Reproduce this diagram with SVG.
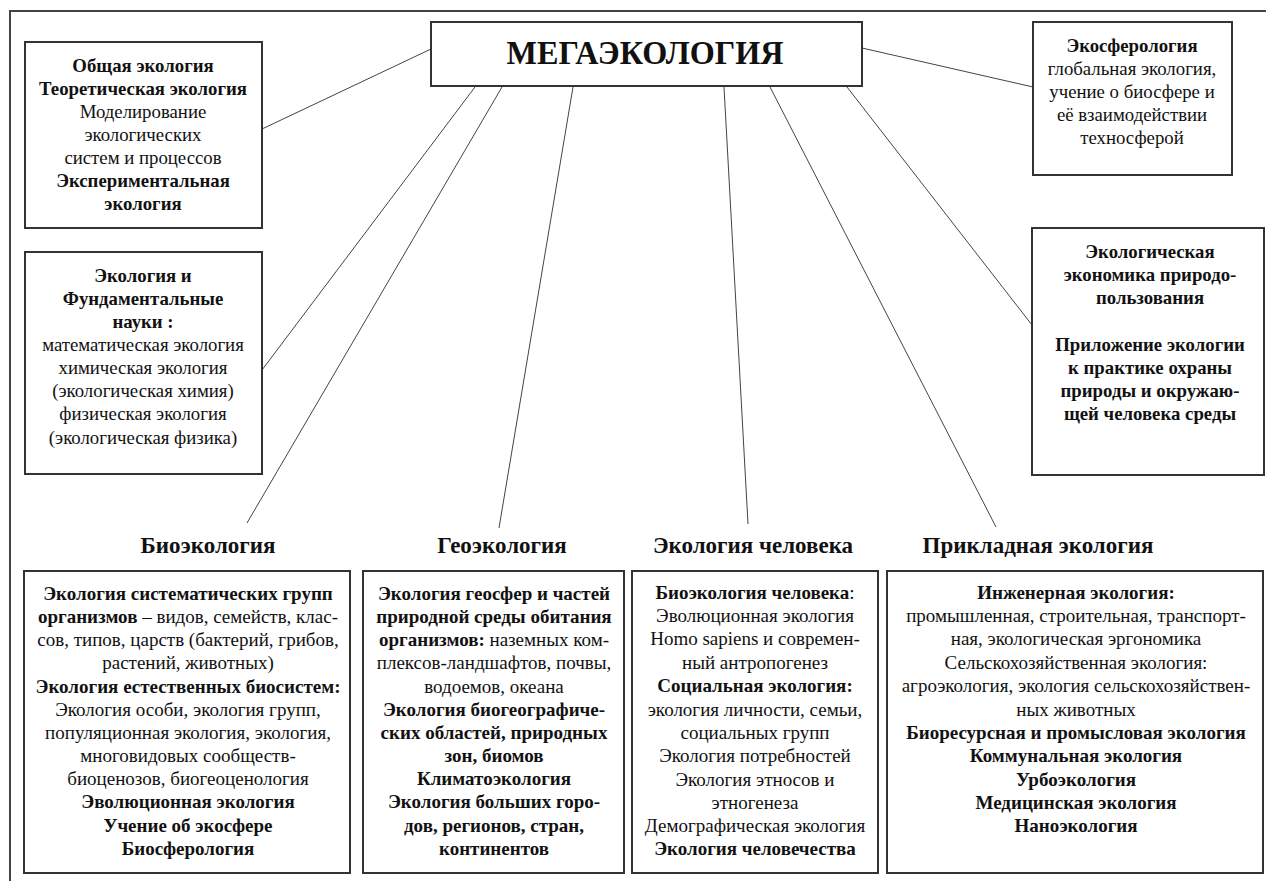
<svg xmlns="http://www.w3.org/2000/svg" width="1266" height="881" viewBox="0 0 1266 881">
  <style>
    .box { fill: #fff; stroke: #333; stroke-width: 2; }
    .frame { fill: none; stroke: #444; stroke-width: 2; }
    .link { fill: none; stroke: #444; stroke-width: 1; }
    text { font-family: "Liberation Serif", "Times New Roman", serif; fill: #111; text-anchor: middle; font-size: 18.8px; }
    .lower text { font-size: 19px; }
    .b { font-weight: bold; }
    .lower text.h { font-weight: bold; font-size: 23px; }
    .t { font-weight: bold; font-size: 34px; }
  </style>
  <rect width="1266" height="881" fill="#fff"/>

  <!-- outer frame: top and left rules -->
  <path class="frame" d="M10,881 V11 H1266"/>

  <!-- connectors from the central term -->
  <g id="connectors">
    <line class="link" x1="431" y1="49" x2="262" y2="129"/>
    <line class="link" x1="475" y1="87" x2="262" y2="370"/>
    <line class="link" x1="502" y1="87" x2="247" y2="523"/>
    <line class="link" x1="573" y1="87" x2="499" y2="528"/>
    <line class="link" x1="724" y1="87" x2="748" y2="524"/>
    <line class="link" x1="770" y1="87" x2="996" y2="527"/>
    <line class="link" x1="847" y1="87" x2="1032" y2="325"/>
    <line class="link" x1="862" y1="48" x2="1033" y2="87"/>
  </g>

  <g id="mega">
    <rect class="box" x="431" y="22" width="431" height="64"/>
    <text class="t" x="645" y="64" textLength="277" lengthAdjust="spacingAndGlyphs">МЕГАЭКОЛОГИЯ</text>
  </g>

  <g id="general">
    <rect class="box" x="25" y="42" width="237" height="186"/>
    <text x="143" y="72" class="b">Общая экология</text>
    <text x="143" y="95" class="b">Теоретическая экология</text>
    <text x="143" y="118">Моделирование</text>
    <text x="143" y="141">экологических</text>
    <text x="143" y="164">систем и процессов</text>
    <text x="143" y="187" class="b">Экспериментальная</text>
    <text x="143" y="210" class="b">экология</text>
  </g>

  <g id="fundamental">
    <rect class="box" x="25" y="252" width="237" height="222"/>
    <text x="143" y="282" class="b">Экология и</text>
    <text x="143" y="305" class="b">Фундаментальные</text>
    <text x="143" y="328" class="b">науки :</text>
    <text x="143" y="351">математическая экология</text>
    <text x="143" y="374">химическая экология</text>
    <text x="143" y="397">(экологическая химия)</text>
    <text x="143" y="420">физическая экология</text>
    <text x="143" y="444">(экологическая физика)</text>
  </g>

  <g id="ecospherology">
    <rect class="box" x="1033" y="22" width="199" height="153"/>
    <text x="1132" y="52" class="b">Экосферология</text>
    <text x="1132" y="75">глобальная экология,</text>
    <text x="1132" y="98">учение о биосфере и</text>
    <text x="1132" y="121">её взаимодействии</text>
    <text x="1132" y="144">техносферой</text>
  </g>

  <g id="economics">
    <rect class="box" x="1032" y="228" width="232" height="247"/>
    <text x="1150" y="258" class="b">Экологическая</text>
    <text x="1150" y="281" class="b">экономика природо-</text>
    <text x="1150" y="304" class="b">пользования</text>
    <text x="1150" y="351" class="b">Приложение экологии</text>
    <text x="1150" y="374" class="b">к практике охраны</text>
    <text x="1150" y="397" class="b">природы и окружаю-</text>
    <text x="1150" y="420" class="b">щей человека среды</text>
  </g>

  <g class="lower">
  <g id="bioecology">
    <text class="h" x="208" y="553">Биоэкология</text>
    <rect class="box" x="24" y="571" width="326" height="302"/>
    <text x="188" y="600" class="b">Экология систематических групп</text>
    <text x="188" y="623"><tspan class="b">организмов</tspan> – видов, семейств, клас-</text>
    <text x="188" y="646">сов, типов, царств (бактерий, грибов,</text>
    <text x="188" y="669">растений, животных)</text>
    <text x="188" y="693" class="b">Экология естественных биосистем:</text>
    <text x="188" y="716">Экология особи, экология групп,</text>
    <text x="188" y="739">популяционная экология, экология,</text>
    <text x="188" y="762">многовидовых сообществ-</text>
    <text x="188" y="785">биоценозов, биогеоценология</text>
    <text x="188" y="808" class="b">Эволюционная экология</text>
    <text x="188" y="832" class="b">Учение об экосфере</text>
    <text x="188" y="855" class="b">Биосферология</text>
  </g>

  <g id="geoecology">
    <text class="h" x="502" y="553">Геоэкология</text>
    <rect class="box" x="363" y="571" width="261" height="302"/>
    <text x="494" y="600" class="b">Экология геосфер и частей</text>
    <text x="494" y="623" class="b">природной среды обитания</text>
    <text x="494" y="646"><tspan class="b">организмов:</tspan> наземных ком-</text>
    <text x="494" y="669">плексов-ландшафтов, почвы,</text>
    <text x="494" y="693">водоемов, океана</text>
    <text x="494" y="716" class="b">Экология биогеографиче-</text>
    <text x="494" y="739" class="b">ских областей, природных</text>
    <text x="494" y="762" class="b">зон, биомов</text>
    <text x="494" y="785" class="b">Климатоэкология</text>
    <text x="494" y="808" class="b">Экология больших горо-</text>
    <text x="494" y="832" class="b">дов, регионов, стран,</text>
    <text x="494" y="855" class="b">континентов</text>
  </g>

  <g id="human">
    <text class="h" x="753" y="553">Экология человека</text>
    <rect class="box" x="632" y="571" width="246" height="302"/>
    <text x="755" y="599"><tspan class="b">Биоэкология человека</tspan>:</text>
    <text x="755" y="622">Эволюционная экология</text>
    <text x="755" y="645">Homo sapiens и современ-</text>
    <text x="755" y="669">ный антропогенез</text>
    <text x="755" y="692" class="b">Социальная экология:</text>
    <text x="755" y="716">экология личности, семьи,</text>
    <text x="755" y="739">социальных групп</text>
    <text x="755" y="762">Экология потребностей</text>
    <text x="755" y="786">Экология этносов и</text>
    <text x="755" y="809">этногенеза</text>
    <text x="755" y="832">Демографическая экология</text>
    <text x="755" y="855" class="b">Экология человечества</text>
  </g>

  <g id="applied">
    <text class="h" x="1038" y="553">Прикладная экология</text>
    <rect class="box" x="887" y="571" width="376" height="302"/>
    <text x="1076" y="599" class="b">Инженерная экология:</text>
    <text x="1076" y="622">промышленная, строительная, транспорт-</text>
    <text x="1076" y="645">ная, экологическая эргономика</text>
    <text x="1076" y="669">Сельскохозяйственная экология:</text>
    <text x="1076" y="692">агроэкология, экология сельскохозяйствен-</text>
    <text x="1076" y="716">ных животных</text>
    <text x="1076" y="739" class="b">Биоресурсная и промысловая экология</text>
    <text x="1076" y="762" class="b">Коммунальная экология</text>
    <text x="1076" y="786" class="b">Урбоэкология</text>
    <text x="1076" y="809" class="b">Медицинская экология</text>
    <text x="1076" y="832" class="b">Наноэкология</text>
  </g>
  </g>
</svg>
